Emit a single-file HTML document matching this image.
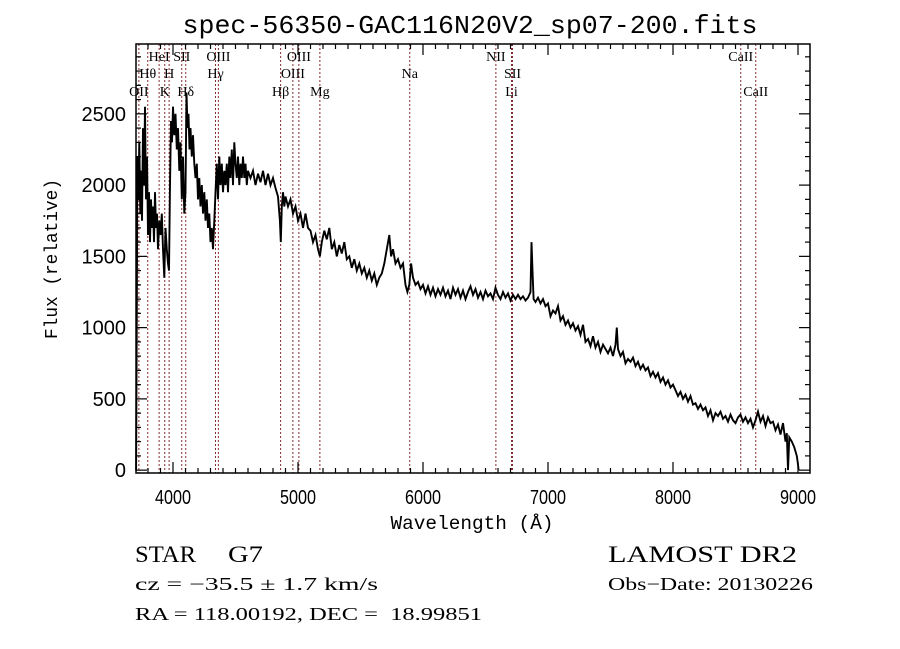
<!DOCTYPE html>
<html><head><meta charset="utf-8"><style>
html,body{margin:0;padding:0;background:#fff;}
svg{display:block;}
</style></head><body>
<svg id="chart" width="900" height="649" viewBox="0 0 900 649" xmlns="http://www.w3.org/2000/svg">
<rect width="900" height="649" fill="#fff"/>
<text x="470" y="33" font-family="Liberation Mono, monospace" font-size="26" text-anchor="middle" textLength="575" lengthAdjust="spacingAndGlyphs">spec-56350-GAC116N20V2_sp07-200.fits</text>
<g id="lines"></g>
<g id="spec"></g>
<g id="axes"></g>
<text x="472" y="529" font-family="Liberation Mono, monospace" font-size="19" text-anchor="middle" textLength="163" lengthAdjust="spacingAndGlyphs">Wavelength (Å)</text>
<text transform="translate(57,259) rotate(-90)" font-family="Liberation Mono, monospace" font-size="18" text-anchor="middle" textLength="160" lengthAdjust="spacingAndGlyphs">Flux (relative)</text>
<g font-family="Liberation Serif, serif" fill="#000">
<text x="135" y="562" font-size="23" textLength="61" lengthAdjust="spacingAndGlyphs">STAR</text>
<text x="228" y="562" font-size="23" textLength="35" lengthAdjust="spacingAndGlyphs">G7</text>
<text x="608" y="562" font-size="23" textLength="189" lengthAdjust="spacingAndGlyphs">LAMOST DR2</text>
<text x="135" y="590" font-size="18" textLength="243" lengthAdjust="spacingAndGlyphs">cz = −35.5 ± 1.7 km/s</text>
<text x="608" y="590" font-size="18" textLength="205" lengthAdjust="spacingAndGlyphs">Obs−Date: 20130226</text>
<text x="135" y="620" font-size="18" textLength="347" lengthAdjust="spacingAndGlyphs">RA = 118.00192, DEC = &#160;18.99851</text>
</g>
</svg>
<script>
const wavelengths=[3705,3710,3715,3722,3730,3738,3745,3752,3760,3768,3776,3784,3792,3800,3808,3816,3824,3832,3840,3848,3856,3864,3872,3880,3890,3900,3910,3920,3930,3940,3950,3960,3968,3976,3984,3992,4000,4010,4020,4030,4040,4050,4060,4070,4080,4090,4100,4108,4116,4124,4132,4140,4150,4160,4170,4180,4190,4200,4210,4220,4230,4240,4250,4260,4270,4280,4290,4300,4310,4320,4330,4340,4350,4360,4370,4380,4390,4400,4410,4420,4430,4440,4450,4460,4470,4480,4490,4500,4510,4520,4530,4540,4550,4560,4570,4580,4590,4600,4620,4640,4660,4680,4700,4720,4740,4760,4780,4800,4820,4840,4855,4862,4870,4880,4890,4900,4920,4940,4960,4980,5000,5020,5040,5060,5080,5100,5120,5140,5160,5175,5190,5210,5230,5250,5270,5290,5310,5330,5350,5370,5390,5410,5430,5450,5470,5490,5510,5530,5550,5570,5590,5610,5630,5650,5670,5690,5710,5730,5745,5760,5780,5800,5820,5840,5860,5875,5890,5905,5920,5940,5960,5980,6000,6020,6040,6060,6080,6100,6120,6140,6160,6180,6200,6220,6240,6260,6280,6300,6320,6340,6360,6380,6400,6420,6440,6460,6480,6500,6520,6540,6560,6580,6600,6620,6640,6660,6680,6700,6720,6740,6760,6780,6800,6820,6840,6860,6868,6876,6885,6900,6920,6940,6960,6980,7000,7020,7040,7060,7080,7100,7120,7140,7160,7180,7200,7220,7240,7260,7280,7300,7320,7340,7360,7380,7400,7420,7440,7460,7480,7500,7520,7540,7550,7560,7580,7600,7620,7640,7660,7680,7700,7720,7740,7760,7780,7800,7820,7840,7860,7880,7900,7920,7940,7960,7980,8000,8020,8040,8060,8080,8100,8120,8140,8160,8180,8200,8220,8240,8260,8280,8300,8320,8340,8360,8380,8400,8420,8440,8460,8480,8500,8520,8540,8560,8580,8600,8620,8640,8660,8680,8700,8720,8740,8760,8780,8800,8820,8840,8860,8880,8900,8910,8920,8930,8950,8970,8990,9000,9005];
const flux=[0,1100,2200,1900,2300,1800,2100,1750,2400,2000,2550,1900,2200,1650,1950,1600,1900,1700,1850,1600,1950,1700,1800,1550,1750,1650,1800,1550,1350,1700,1550,1450,1400,2000,2450,2300,2550,2350,2500,2250,2400,2100,2300,1900,2200,1800,1950,2650,2400,2500,2250,2400,2200,2350,2150,2050,2150,1900,2050,1850,2000,1800,1950,1750,1900,1700,1800,1600,1700,1550,1750,1950,2150,1900,2200,2000,2150,1950,2100,2000,2150,1950,2200,2050,2250,2000,2300,2150,2050,2200,2000,2150,2050,2200,2050,2150,2000,2100,2050,2100,2000,2080,2020,2100,2000,2080,2000,2050,1980,1920,1750,1600,1850,1950,1850,1920,1850,1900,1800,1850,1750,1800,1700,1800,1700,1680,1600,1650,1550,1500,1600,1680,1620,1700,1550,1600,1500,1580,1520,1600,1480,1500,1420,1480,1400,1450,1380,1420,1350,1400,1330,1380,1300,1350,1380,1450,1550,1650,1500,1550,1450,1480,1420,1450,1300,1250,1300,1450,1350,1300,1320,1270,1300,1240,1290,1230,1280,1220,1270,1230,1280,1220,1260,1200,1280,1230,1270,1210,1260,1200,1250,1290,1230,1270,1210,1250,1200,1260,1220,1240,1200,1280,1230,1200,1250,1210,1240,1190,1230,1200,1230,1200,1220,1190,1210,1250,1600,1400,1200,1180,1210,1170,1200,1150,1170,1080,1120,1100,1150,1050,1080,1020,1050,1000,1030,980,1010,950,1020,900,920,870,940,860,900,830,880,850,820,860,800,880,1000,850,800,830,750,780,760,790,730,760,710,740,700,720,660,690,650,680,620,650,600,630,580,600,560,520,550,500,530,480,520,460,470,430,460,420,440,380,420,350,400,380,410,360,380,340,390,350,330,370,390,340,370,330,360,300,350,410,340,380,310,370,330,340,280,320,250,330,200,260,0,230,200,160,100,40,0];
const lineWaves=[3727,3798,3889,3934,3969,4070,4102,4340,4363,4861,4959,5007,5175,5894,6583,6708,6716,8542,8662];
const lineNames=["OII","Hθ","HeI","K","H","SII","Hδ","Hγ","OIII","Hβ","OIII","OIII","Mg","Na","NII","Li","SII","CaII","CaII"];
const lineRows=[3,2,1,3,2,1,3,2,1,3,2,1,3,2,1,3,2,1,3];
const xTicks=[4000,5000,6000,7000,8000,9000];
const yTicks=[0,500,1000,1500,2000,2500];

const L=136,R=810,T=44,B=473;
const X0=3704,X1=9096,Y0=-20,Y1=2990;
const NS="http://www.w3.org/2000/svg";
function xs(w){return L+(w-X0)/(X1-X0)*(R-L);}
function ys(f){return B-(f-Y0)/(Y1-Y0)*(B-T);}
function mk(tag,attrs,parent){const e=document.createElementNS(NS,tag);for(const k in attrs)e.setAttribute(k,attrs[k]);parent.appendChild(e);return e;}

const gl=document.getElementById('lines');
lineWaves.forEach((w,i)=>{
  const x=xs(w);
  const ln=mk('line',{x1:x,x2:x,y1:T,y2:B,stroke:'#8b2a2a','stroke-width':1,'stroke-dasharray':'2,2'},gl);
  
  
  const rowY=[0,61,78,96][lineRows[i]];
  const t=mk('text',{x:x,y:rowY,'font-family':'Liberation Serif, serif','font-size':14,'text-anchor':'middle'},gl);
  t.textContent=lineNames[i];
  
  
});

const gs=document.getElementById('spec');
let d='';
wavelengths.forEach((w,i)=>{const y=Math.min(B,Math.max(T,ys(flux[i])));d+=(i?'L':'M')+xs(w).toFixed(1)+','+y.toFixed(1);});
const p=mk('path',{d:d,fill:'none',stroke:'#000','stroke-width':1.9,'stroke-linejoin':'miter'},gs);



const ga=document.getElementById('axes');
const fr=mk('rect',{x:L,y:T,width:R-L,height:B-T,fill:'none',stroke:'#000','stroke-width':1.5},ga);


for(let w=3800;w<=X1;w+=100){
  const x=xs(w);const major=w%1000===0;const len=major?11:5;
  mk('line',{x1:x,x2:x,y1:B,y2:B-len,stroke:'#000','stroke-width':1.2},ga);
  mk('line',{x1:x,x2:x,y1:T,y2:T+len,stroke:'#000','stroke-width':1.2},ga);
}
for(let f=0;f<=Y1;f+=100){
  const y=ys(f);const major=f%500===0;const len=major?11:5;
  mk('line',{x1:L,x2:L+len,y1:y,y2:y,stroke:'#000','stroke-width':1.2},ga);
  mk('line',{x1:R,x2:R-len,y1:y,y2:y,stroke:'#000','stroke-width':1.2},ga);
}
xTicks.forEach(w=>{
  const t=mk('text',{x:xs(w),y:504,'font-family':'Liberation Sans, sans-serif','font-size':20,'text-anchor':'middle',textLength:36,lengthAdjust:'spacingAndGlyphs'},ga);
  t.textContent=String(w);
  
  
});
yTicks.forEach(f=>{
  const t=mk('text',{x:126,y:ys(f)+7,'font-family':'Liberation Sans, sans-serif','font-size':20,'text-anchor':'end'},ga);
  t.textContent=String(f);
  
  
});
</script>
</body></html>
